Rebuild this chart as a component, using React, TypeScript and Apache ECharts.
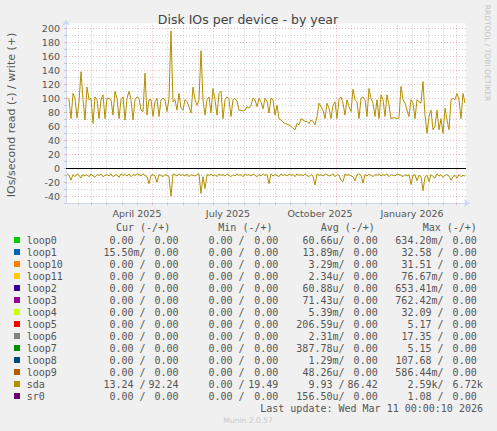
import React, { useEffect, useRef } from "react";
import * as echarts from "echarts";

// ---------- axis structure ----------
const START_DATE = "2025-02-04"; // left edge of the 400-day window
const DAY_COUNT = 401; // Feb 4 2025 .. Mar 11 2026
const SAMPLE_START_DAY = 1; // first sample of the series (day index)
const SAMPLE_STEP_DAYS = 2; // one value every two days

const xLabelDates = ["2025-04-16", "2025-07-16", "2025-10-16", "2026-01-16"];
const xLabelTexts = ["April 2025", "July 2025", "October 2025", "January 2026"];
const majorGridDates = ["2025-03-01", "2025-05-01", "2025-07-01", "2025-09-01", "2025-11-01", "2026-01-01", "2026-03-01"];
const minorGridDates = [
  "2025-02-16", "2025-03-16", "2025-04-01", "2025-04-16", "2025-05-16", "2025-06-01", "2025-06-16",
  "2025-07-16", "2025-08-01", "2025-08-16", "2025-09-16", "2025-10-01", "2025-10-16", "2025-11-16",
  "2025-12-01", "2025-12-16", "2026-01-16", "2026-02-01", "2026-02-16",
];
const yLabelValues = [-40, -20, 0, 20, 40, 60, 80, 100, 120, 140, 160, 180, 200];
const yMinorValues = [-30, -10, 10, 30, 50, 70, 90, 110, 130, 150, 170, 190];
const Y_MIN = -50;
const Y_MAX = 207;

// ---------- sda series (IOs/second), one value every 2 days ----------
const sdaWrite = [
  101, 98, 71, 107, 100, 72, 95, 138, 98, 69,
  116, 98, 100, 64, 102, 98, 71, 98, 105, 71,
  100, 100, 98, 76, 110, 100, 71, 98, 102, 69,
  100, 110, 98, 69, 98, 102, 100, 83, 81, 136,
  76, 98, 98, 74, 95, 100, 74, 98, 100, 98,
  81, 100, 196, 95, 98, 83, 107, 86, 83, 98,
  95, 88, 79, 116, 98, 90, 98, 168, 98, 76,
  98, 102, 79, 114, 98, 76, 107, 110, 71, 98,
  102, 98, 74, 98, 100, 96, 83, 83, 82, 83,
  88, 86, 90, 100, 98, 88, 100, 95, 85, 100,
  96, 79, 100, 98, 76, 90, 71, 69, 66, 64,
  63, 62, 60, 57, 55, 64, 62, 71, 69, 67,
  67, 64, 69, 67, 62, 74, 93, 88, 83, 71,
  93, 86, 71, 90, 95, 71, 98, 102, 93, 76,
  98, 88, 81, 113, 98, 95, 71, 100, 102, 98,
  74, 114, 100, 93, 74, 98, 71, 105, 98, 74,
  105, 90, 71, 72, 72, 71, 72, 117, 98, 93,
  83, 74, 98, 93, 71, 98, 95, 93, 124, 76,
  50, 74, 83, 55, 60, 83, 55, 71, 50, 86,
  69, 55, 98, 100, 98, 107, 98, 71, 107, 93,
];
const sdaRead = [
  8, 10, 17, 9, 12, 8, 10, 14, 9, 11,
  9, 12, 8, 11, 13, 9, 10, 8, 12, 10,
  9, 11, 8, 12, 10, 9, 13, 8, 10, 9,
  11, 8, 12, 9, 10, 8, 9, 11, 8, 10,
  12, 22, 10, 9, 11, 20, 9, 10, 12, 9,
  10, 12, 40, 8, 9, 11, 8, 10, 9, 11,
  8, 12, 9, 10, 11, 9, 8, 36, 12, 29,
  9, 10, 8, 11, 9, 12, 8, 10, 9, 11,
  8, 10, 12, 9, 11, 8, 10, 9, 12, 8,
  10, 9, 11, 8, 10, 12, 9, 11, 8, 10,
  9, 22, 8, 11, 9, 10, 12, 8, 10, 9,
  11, 8, 10, 9, 12, 8, 10, 9, 11, 8,
  10, 12, 9, 11, 24, 8, 10, 9, 11, 8,
  9, 11, 10, 8, 12, 9, 10, 17, 19, 8,
  10, 9, 11, 12, 18, 9, 8, 10, 21, 9,
  11, 8, 10, 12, 9, 10, 8, 11, 9, 10,
  8, 12, 9, 10, 11, 8, 9, 10, 12, 9,
  11, 9, 23, 10, 9, 18, 10, 12, 32, 12,
  10, 19, 9, 12, 14, 8, 11, 9, 13, 10,
  9, 11, 17, 12, 10, 14, 9, 12, 10, 11,
];

// ---------- legend table ----------
const legendNames = ["loop0", "loop1", "loop10", "loop11", "loop2", "loop3", "loop4", "loop5", "loop6", "loop7", "loop8", "loop9", "sda", "sr0"];
const legendColors = ["#00CC00", "#0066B3", "#FF8000", "#FFCC00", "#330099", "#990099", "#CCFF00", "#FF0000", "#808080", "#008F00", "#00487D", "#B35A00", "#B38F00", "#6B006B"];
const curRead = ["0.00", "15.50m", "0.00", "0.00", "0.00", "0.00", "0.00", "0.00", "0.00", "0.00", "0.00", "0.00", "13.24", "0.00"];
const curWrite = ["0.00", "0.00", "0.00", "0.00", "0.00", "0.00", "0.00", "0.00", "0.00", "0.00", "0.00", "0.00", "92.24", "0.00"];
const minRead = ["0.00", "0.00", "0.00", "0.00", "0.00", "0.00", "0.00", "0.00", "0.00", "0.00", "0.00", "0.00", "0.00", "0.00"];
const minWrite = ["0.00", "0.00", "0.00", "0.00", "0.00", "0.00", "0.00", "0.00", "0.00", "0.00", "0.00", "0.00", "19.49", "0.00"];
const avgRead = ["60.66u", "13.89m", "3.29m", "2.34u", "60.88u", "71.43u", "5.39m", "206.59u", "2.31m", "387.78u", "1.29m", "48.26u", "9.93", "156.50u"];
const avgWrite = ["0.00", "0.00", "0.00", "0.00", "0.00", "0.00", "0.00", "0.00", "0.00", "0.00", "0.00", "0.00", "86.42", "0.00"];
const maxRead = ["634.20m", "32.58", "31.51", "76.67m", "653.41m", "762.42m", "32.09", "5.17", "17.35", "5.15", "107.68", "586.44m", "2.59k", "1.08"];
const maxWrite = ["0.00", "0.00", "0.00", "0.00", "0.00", "0.00", "0.00", "0.00", "0.00", "0.00", "0.00", "0.00", "6.72k", "0.00"];
const columnHeaders = ["Cur (-/+)", "Min (-/+)", "Avg (-/+)", "Max (-/+)"];
const LAST_UPDATE = "Last update: Wed Mar 11 00:00:10 2026";

// ---------- styles ----------
const SDA_COLOR = "#B38F00";
const TEXT = "#555555";
const AXIS_COLOR = "#cfd6f8";
const MAJOR_GRID = "rgba(235,90,90,0.45)";
const MINOR_GRID = "rgba(150,150,150,0.45)";
const MONO = '"DejaVu Sans Mono", monospace';
const SANS = '"DejaVu Sans", sans-serif';

const DAY_MS = 86400000;
const startMs = Date.parse(START_DATE + "T00:00:00Z");
const dayIndex = (d: string) => Math.round((Date.parse(d + "T00:00:00Z") - startMs) / DAY_MS);
const categories: string[] = Array.from({ length: DAY_COUNT }, (_, i) =>
  new Date(startMs + i * DAY_MS).toISOString().slice(0, 10)
);

function splitVal(s: string) {
  const m = /^([\d.]+)([a-zA-Z]?)$/.exec(s)!;
  return { num: m[1], suf: m[2] };
}

function buildGraphic() {
  const els: any[] = [];
  const t = (x: number, y: number, text: string, opts: any = {}) => {
    const align = opts.align || "left";
    els.push({
      type: "text",
      x,
      y,
      rotation: opts.rotation || 0,
      silent: true,
      style: {
        text,
        fill: opts.fill || TEXT,
        font: opts.font || `10px ${MONO}`,
        align,
        textAlign: align,
        verticalAlign: "middle",
        textVerticalAlign: "middle",
      },
    });
  };
  // title
  t(248, 19.5, "Disk IOs per device - by year", { align: "center", font: `12.5px ${SANS}`, fill: "#444" });
  // y axis name
  t(11, 115, "IOs/second read (-) / write (+)", { align: "center", font: `11px ${SANS}`, rotation: Math.PI / 2 });
  // watermark
  t(487, 53, "RRDTOOL / TOBI OETIKER", { align: "center", font: `7.5px ${SANS}`, fill: "#c4c4c4", rotation: -Math.PI / 2 });
  // headers
  const headerX = [116, 218.3, 320.7, 422.7];
  columnHeaders.forEach((h, i) => t(headerX[i], 227.5, h.replace(/ /g, "\u00a0")));
  // columns
  const R1 = [133.5, 232.5, 332.5, 431.5];
  const R2 = [178.5, 278.3, 377.7, 476.7];
  const cols = [
    [curRead, curWrite],
    [minRead, minWrite],
    [avgRead, avgWrite],
    [maxRead, maxWrite],
  ];
  legendNames.forEach((name, r) => {
    const y = 240 + r * 12;
    els.push({
      type: "rect",
      silent: true,
      shape: { x: 14, y: y - 3, width: 6, height: 6 },
      style: { fill: legendColors[r] },
    });
    t(26.7, y, name);
    cols.forEach(([neg, pos], c) => {
      const a = splitVal(neg[r]);
      const b = splitVal(pos[r]);
      t(a.suf ? R1[c] + 6 : R1[c], y, a.num + a.suf, { align: "right" });
      t(R1[c] + 6, y, "/");
      t(b.suf ? R2[c] + 6 : R2[c], y, b.num + b.suf, { align: "right" });
    });
  });
  t(483, 408, LAST_UPDATE.replace(/ /g, "\u00a0"), { align: "right" });
  t(248, 420, "Munin 2.0.57", { align: "center", font: `7.6px ${SANS}`, fill: "#c8c8c8" });
  return els;
}

function buildOption(): any {
  const writeData = sdaWrite.map((v, i) => [SAMPLE_START_DAY + i * SAMPLE_STEP_DAYS, v]);
  const readData = sdaRead.map((v, i) => [SAMPLE_START_DAY + i * SAMPLE_STEP_DAYS, -v]);
  const dash = [1, 2];
  const gridLines: any[] = [
    ...minorGridDates.map((d) => ({ xAxis: dayIndex(d), lineStyle: { color: MINOR_GRID, width: 1, type: dash } })),
    ...majorGridDates.map((d) => ({ xAxis: dayIndex(d), lineStyle: { color: MAJOR_GRID, width: 1, type: dash } })),
    ...yMinorValues.map((v) => ({ yAxis: v, lineStyle: { color: MINOR_GRID, width: 1, type: dash } })),
    ...yLabelValues
      .filter((v) => v !== 0)
      .map((v) => ({ yAxis: v, lineStyle: { color: MAJOR_GRID, width: 1, type: dash } })),
    { yAxis: 0, lineStyle: { color: "#000", width: 1, type: "solid" } },
  ];
  const tickSet = new Set([...minorGridDates, ...majorGridDates]);
  const labelMap: Record<string, string> = {};
  xLabelDates.forEach((d, i) => (labelMap[d] = xLabelTexts[i]));

  return {
    animation: false,
    backgroundColor: "#f0f0f0",
    grid: {
      left: 66,
      right: 31,
      top: 23.4,
      bottom: 431 - 203.3,
      show: true,
      backgroundColor: "#ffffff",
      borderWidth: 0,
    },
    xAxis: {
      type: "category",
      data: categories,
      boundaryGap: false,
      axisLine: {
        show: true,
        onZero: false,
        lineStyle: { color: AXIS_COLOR, width: 1 },
        symbol: ["none", "arrow"],
        symbolSize: [6, 6],
        symbolOffset: [0, 4],
      },
      axisTick: {
        show: true,
        length: 2,
        interval: (_i: number, v: string) => tickSet.has(v),
        lineStyle: { color: "#c8c8c8" },
      },
      axisLabel: {
        show: true,
        interval: (_i: number, v: string) => v in labelMap,
        formatter: (v: string) => labelMap[v] || "",
        color: TEXT,
        fontSize: 9.5,
        fontFamily: SANS,
        margin: 5,
        hideOverlap: false,
      },
      splitLine: { show: false },
    },
    yAxis: {
      type: "value",
      min: Y_MIN,
      max: Y_MAX,
      interval: 10,
      axisLine: {
        show: true,
        lineStyle: { color: AXIS_COLOR, width: 1 },
        symbol: ["none", "arrow"],
        symbolSize: [6, 6],
        symbolOffset: [0, 4],
      },
      axisTick: { show: true, length: 2, lineStyle: { color: "#c8c8c8" } },
      axisLabel: {
        color: TEXT,
        fontSize: 9.5,
        fontFamily: SANS,
        margin: 6,
        formatter: (v: number) => (yLabelValues.includes(v) ? String(v) : ""),
      },
      splitLine: { show: false },
    },
    series: [
      {
        name: "sda read",
        type: "line",
        data: readData,
        showSymbol: false,
        symbol: "none",
        lineStyle: { color: SDA_COLOR, width: 1 },
        z: 3,
        silent: true,
        markLine: {
          silent: true,
          symbol: ["none", "none"],
          label: { show: false },
          z: 1,
          animation: false,
          data: gridLines,
        },
      },
      {
        name: "sda write",
        type: "line",
        data: writeData,
        showSymbol: false,
        symbol: "none",
        lineStyle: { color: SDA_COLOR, width: 1 },
        z: 3,
        silent: true,
      },
    ],
    graphic: { elements: buildGraphic() },
  };
}

export default function App() {
  const ref = useRef<HTMLDivElement>(null);
  useEffect(() => {
    if (!ref.current) return;
    const chart = echarts.init(ref.current, undefined, { renderer: "svg" });
    chart.setOption(buildOption());
    return () => chart.dispose();
  }, []);
  return (
    <div
      ref={ref}
      style={{ position: "fixed", left: 0, top: 0, width: 497, height: 431, background: "#f0f0f0" }}
    />
  );
}
